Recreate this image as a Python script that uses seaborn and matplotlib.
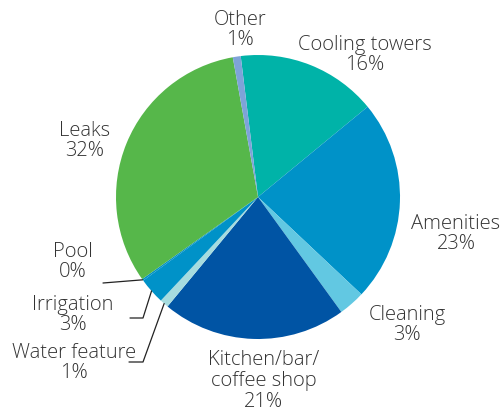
import numpy as np
import matplotlib
matplotlib.use("Agg")
import matplotlib.pyplot as plt
import seaborn as sns

# Share of water use by category (clockwise from the top)
categories = ["Cooling towers", "Amenities", "Cleaning", "Kitchen/bar/\ncoffee shop",
              "Water feature", "Irrigation", "Pool", "Leaks", "Other"]
shares = [16, 23, 3, 21, 1, 3, 0.2, 32, 0.9]
pct_labels = ["16%", "23%", "3%", "21%", "1%", "3%", "0%", "32%", "1%"]
colors = ["#00b3a8", "#0092c8", "#62c8e2", "#0054a4", "#a6dcdf",
          "#0092c8", "#0092c8", "#56b74a", "#7ea3d8"]

sns.set_theme(style="white")
plt.rcParams["font.family"] = ["Open Sans", "DejaVu Sans"]

W, H = 502, 412
fig = plt.figure(figsize=(W / 100, H / 100), dpi=100)
ax = fig.add_axes([0, 0, 1, 1])

cx, cy, r = 258, H - 197, 142
wedges, _ = ax.pie(shares, colors=colors, startangle=97, counterclock=False,
                   center=(cx, cy), radius=r, frame=True,
                   wedgeprops=dict(linewidth=0))
ax.set_xlim(0, W)
ax.set_ylim(0, H)
ax.set_axis_off()

txt = dict(fontsize=14.5, color="#333333", ha="center", va="center",
           linespacing=1.05, fontweight="light")

# label centres in pixel coordinates (y measured from the top)
label_pos = {
    "Cooling towers": (365, 55),
    "Amenities": (456, 234),
    "Cleaning": (407, 325),
    "Kitchen/bar/\ncoffee shop": (264, 381),
    "Water feature": (74, 363),
    "Irrigation": (73, 315),
    "Pool": (73, 262),
    "Leaks": (85, 141),
    "Other": (240, 30),
}
for cat, pct in zip(categories, pct_labels):
    x, y = label_pos[cat]
    ax.text(x, H - y, f"{cat}\n{pct}", **txt)

# leader lines for the thin slices
def edge_point(w, frac):
    t = np.deg2rad(w.theta1 + frac * (w.theta2 - w.theta1))
    return cx + r * np.cos(t), cy + r * np.sin(t)

lw = 0.9
lc = "#222222"
w_pool = wedges[categories.index("Pool")]
px, py = edge_point(w_pool, 0.5)
ax.plot([px, 103], [py, H - 283], color=lc, lw=lw)

w_irr = wedges[categories.index("Irrigation")]
ix, iy = edge_point(w_irr, 0.5)
ax.plot([ix, 143, 130], [iy, H - 318, H - 318], color=lc, lw=lw)

w_wf = wedges[categories.index("Water feature")]
wx, wy = edge_point(w_wf, 0.5)
ax.plot([wx, 143, 129], [wy, H - 362, H - 362], color=lc, lw=lw)

fig.savefig("out.png", dpi=100)
